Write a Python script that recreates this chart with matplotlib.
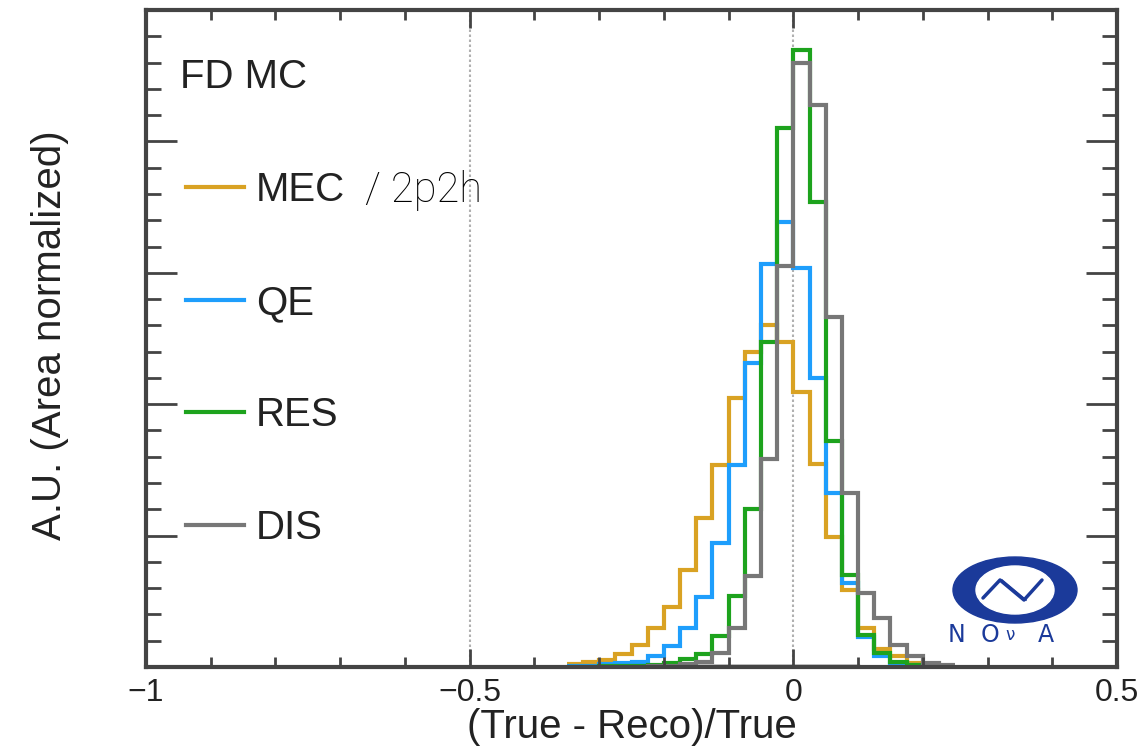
import numpy as np
import matplotlib
matplotlib.use('Agg')
import matplotlib.pyplot as plt
from matplotlib.patches import Ellipse
from matplotlib.lines import Line2D
from matplotlib.ticker import MultipleLocator

plt.rcParams['font.family'] = ['Liberation Sans', 'DejaVu Sans']

# bin edges of (True - Reco)/True, width 0.025
bin_edges = np.round(np.arange(-0.35, 0.2501, 0.025), 3)

# area normalized contents per bin
mec = [0.0005, 0.0007, 0.0011, 0.0020, 0.0033, 0.0059, 0.0092, 0.0148, 0.0227, 0.0307, 0.0409, 0.0480,
       0.0521, 0.0495, 0.0419, 0.0309, 0.0198, 0.0117, 0.0059, 0.0027, 0.0016, 0.0006, 0.0003, 0.0002]
qe = [0.0002, 0.0002, 0.0004, 0.0006, 0.0008, 0.0017, 0.0032, 0.0059, 0.0107, 0.0188, 0.0307, 0.0463,
      0.0613, 0.0677, 0.0607, 0.0440, 0.0265, 0.0128, 0.0046, 0.0016, 0.0006, 0.0003, 0.0002, 0.0001]
res = [0.0, 0.0, 0.0001, 0.0001, 0.0002, 0.0003, 0.0006, 0.0012, 0.0020, 0.0047, 0.0108, 0.0240,
       0.0495, 0.0821, 0.0939, 0.0708, 0.0344, 0.0140, 0.0049, 0.0021, 0.0008, 0.0003, 0.0002, 0.0001]
dis = [0.0, 0.0, 0.0, 0.0, 0.0, 0.0001, 0.0002, 0.0004, 0.0008, 0.0021, 0.0059, 0.0139,
       0.0316, 0.0611, 0.0919, 0.0855, 0.0533, 0.0265, 0.0113, 0.0075, 0.0033, 0.0016, 0.0006, 0.0003]
other = [0.0, 0.0, 0.0, 0.0, 0.0, 0.0, 0.0, 0.0, 0.0002, 0.0002, 0.0002, 0.0002,
         0.0002, 0.0002, 0.0002, 0.0002, 0.0002, 0.0002, 0.0, 0.0, 0.0, 0.0, 0.0, 0.0]

labels = ['MEC', 'QE', 'RES', 'DIS']
colors = ['#D9A223', '#1E9EFC', '#1DA31D', '#777777']
xticks = [-1, -0.5, 0, 0.5]
xtick_labels = ['\u22121', '\u22120.5', '0', '0.5']

W, H = 1137, 747
fig = plt.figure(figsize=(W / 100, H / 100), dpi=100)
ax = fig.add_axes([146 / W, 1 - 667 / H, (1117 - 146) / W, (667 - 10) / H])

for x in [-0.5, 0]:
    ax.axvline(x, color='#b0b0b0', lw=1.5, ls=(0, (1.2, 1.2)), zorder=0)

ax.stairs(other, bin_edges, color='#111111', lw=2.5, baseline=None)
for vals, c in zip([mec, qe, res, dis], colors):
    ax.stairs(vals, bin_edges, color=c, lw=3, baseline=None)

ax.set_xlim(-1, 0.5)
ax.set_ylim(0, 0.1)
ax.set_xticks(xticks)
ax.set_xticklabels(xtick_labels)
ax.xaxis.set_minor_locator(MultipleLocator(0.1))
ax.yaxis.set_major_locator(MultipleLocator(0.02))
ax.yaxis.set_minor_locator(MultipleLocator(0.004))
ax.tick_params(axis='both', which='both', direction='in', top=True, right=True,
               color='#444444', width=2)
ax.tick_params(axis='x', which='major', length=13, labelsize=23, pad=8, labelcolor='#222222')
ax.tick_params(axis='x', which='minor', length=7)
ax.tick_params(axis='y', which='major', length=22, labelleft=False)
ax.tick_params(axis='y', which='minor', length=11)
for s in ax.spines.values():
    s.set_linewidth(3)
    s.set_color('#444444')

fig.text(632 / W, 1 - 727 / H, '(True - Reco)/True', ha='center', va='center', fontsize=29, color='#222222')
fig.text(50 / W, 1 - 335 / H, 'A.U. (Area normalized)', ha='center', va='center', rotation=90,
         fontsize=29, color='#222222')

ax.text(0.035, 0.898, 'FD MC', transform=ax.transAxes, fontsize=29, va='center', color='#222222')
handles = [Line2D([], [], color=c, lw=3) for c in colors]
leg = ax.legend(handles, labels, loc='upper left', bbox_to_anchor=(0.02, 0.785), frameon=False,
                fontsize=29, handlelength=1.45, handletextpad=0.3, labelspacing=1.85, borderpad=0)
for t in leg.get_texts():
    t.set_color('#222222')
ax.text(0.2255, 0.726, '/ 2p2h', transform=ax.transAxes, fontsize=30, va='center',
        fontfamily='Roboto', fontweight='light', color='black')

# NOvA logo drawn in pixel coordinates
lx0, lx1, ly0, ly1 = 935, 1085, 550, 650
lax = fig.add_axes([lx0 / W, 1 - ly1 / H, (lx1 - lx0) / W, (ly1 - ly0) / H])
lax.set_xlim(lx0, lx1)
lax.set_ylim(ly1, ly0)
lax.axis('off')
navy = '#1B3A9A'
lax.add_patch(Ellipse((1015, 590), 124, 66, color=navy))
lax.add_patch(Ellipse((1015, 590), 78, 48, color='white'))
lax.plot([983, 1000, 1024, 1042], [598, 580, 600, 580], color=navy, lw=2.5, solid_capstyle='round')
lax.plot([1002, 1026], [580, 600], color=navy, lw=1.2)
for ch, x, fs in zip(['N', 'O', '\u03bd', 'A'], [957, 990, 1010, 1046], [17, 17, 12, 17]):
    lax.text(x, 635, ch, color=navy, fontsize=fs, ha='center', va='center', fontfamily='DejaVu Sans')

fig.savefig('out.png', dpi=100)
